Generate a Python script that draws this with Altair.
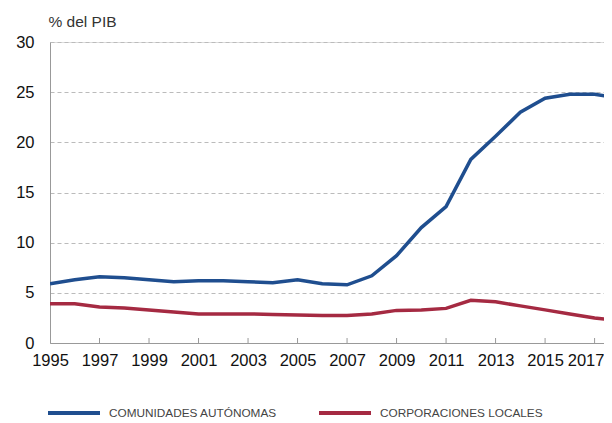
import altair as alt
import pandas as pd

years = list(range(1995, 2019))
comunidades = [5.9, 6.3, 6.6, 6.5, 6.3, 6.1, 6.2, 6.2, 6.1, 6.0, 6.3, 5.9, 5.8,
               6.7, 8.7, 11.5, 13.6, 18.3, 20.6, 23.0, 24.4, 24.8, 24.8, 24.4]
corporaciones = [3.9, 3.9, 3.6, 3.5, 3.3, 3.1, 2.9, 2.9, 2.9, 2.85, 2.8, 2.75, 2.75,
                 2.9, 3.25, 3.3, 3.45, 4.25, 4.1, 3.7, 3.3, 2.9, 2.5, 2.2]
series_names = ["COMUNIDADES AUTÓNOMAS", "CORPORACIONES LOCALES"]
series_colors = ["#1f4e8f", "#a52a42"]
tick_years = list(range(1995, 2018, 2))
y_ticks = [0, 5, 10, 15, 20, 25, 30]

rows = []
for y, a, b in zip(years, comunidades, corporaciones):
    rows.append({"year": y, "value": a, "serie": series_names[0]})
    rows.append({"year": y, "value": b, "serie": series_names[1]})
df = pd.DataFrame(rows)
ticks_df = pd.DataFrame({"year": tick_years[1:]})

W, H = 554, 301
FONT = "Liberation Sans"

xscale = alt.Scale(domain=[1995, 2017.38], nice=False, zero=False)
yscale = alt.Scale(domain=[0, 30], nice=False)

lines = alt.Chart(df).mark_line(strokeWidth=3.5, clip=True).encode(
    x=alt.X("year:Q", scale=xscale,
            axis=alt.Axis(values=tick_years, format="d", title=None, grid=False,
                          ticks=False, labelPadding=9, labelFontSize=16.5,
                          labelColor="#111", labelFont=FONT, domainColor="#999",
                          domainWidth=1, labelFlush=False,
                          labelOffset={"condition": {"test": "datum.value == 2017", "value": -9},
                                       "value": 0})),
    y=alt.Y("value:Q", scale=yscale,
            axis=alt.Axis(values=y_ticks, title="% del PIB", titleAngle=0,
                          titleX=-2, titleY=-16, titleAlign="left",
                          titleBaseline="alphabetic", titleFontSize=15.5,
                          titleFontWeight="normal", titleColor="#333", titleFont=FONT,
                          ticks=False, labelPadding=16, labelFontSize=16.5,
                          labelColor="#111", labelFont=FONT, domainColor="#999",
                          gridColor="#bbbbbb", gridDash=[4, 3], gridWidth=1)),
    color=alt.Color("serie:N",
                    scale=alt.Scale(domain=series_names, range=series_colors),
                    legend=alt.Legend(title=None, orient="none", direction="horizontal",
                                      legendX=-4, legendY=343, padding=0,
                                      symbolType="stroke",
                                      symbolSize=2704, symbolStrokeWidth=4,
                                      labelFont=FONT,
                                      labelFontSize=11.8, labelColor="#444",
                                      labelOffset=7, columnPadding=34,
                                      labelLimit=300)),
)

inner_ticks = alt.Chart(ticks_df).mark_rule(color="#999", strokeWidth=1).encode(
    x=alt.X("year:Q", scale=xscale),
    y=alt.datum(0),
    y2=alt.value(H - 5),
)

chart = alt.layer(lines, inner_ticks).properties(
    width=W, height=H,
    padding={"left": 42, "top": 34, "right": 0, "bottom": 80},
    autosize=alt.AutoSizeParams(type="none"),
).configure_view(stroke=None).configure(background="white")

chart.save("out.html", embed_options={"renderer": "svg", "actions": False})
